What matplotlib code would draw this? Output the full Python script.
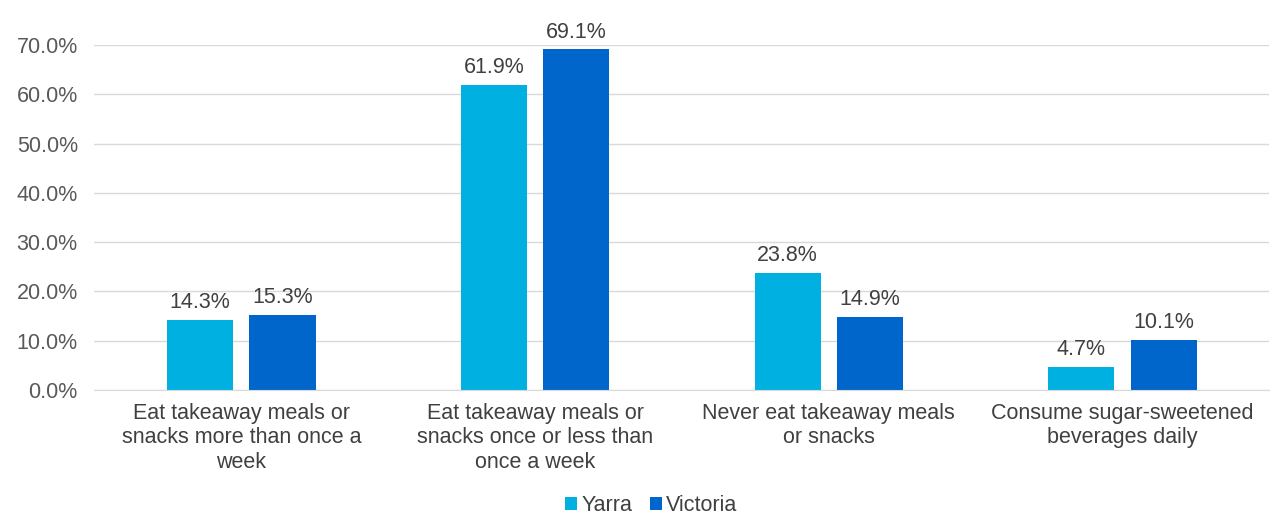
import matplotlib
matplotlib.use('Agg')
import matplotlib.pyplot as plt
import numpy as np

plt.rcParams['font.family'] = ['Liberation Sans', 'DejaVu Sans']

categories = ['Eat takeaway meals or\nsnacks more than once a\nweek',
              'Eat takeaway meals or\nsnacks once or less than\nonce a week',
              'Never eat takeaway meals\nor snacks',
              'Consume sugar-sweetened\nbeverages daily']
yarra = [14.3, 61.9, 23.8, 4.7]
victoria = [15.3, 69.1, 14.9, 10.1]

fig = plt.figure(figsize=(12.77, 5.2), dpi=100)
ax = fig.add_axes([0.074, 0.25, 0.92, 0.6635])

x = np.arange(len(categories))
w = 0.225
b1 = ax.bar(x - 0.14, yarra, w, color='#00B0E0', label='Yarra')
b2 = ax.bar(x + 0.14, victoria, w, color='#0066CC', label='Victoria')

for bars, vals in [(b1, yarra), (b2, victoria)]:
    for b, v in zip(bars, vals):
        ax.text(b.get_x() + b.get_width() / 2, v + 1.4, '%.1f%%' % v,
                ha='center', va='bottom', fontsize=15.5, color='#404040')

ax.set_ylim(0, 70)
ax.set_xlim(-0.5, 3.5)
ax.set_yticks(np.arange(0, 71, 10))
ax.set_yticklabels(['%.1f%%' % t for t in np.arange(0, 71, 10)], fontsize=15.5, color='#595959')
ax.set_xticks(x)
ax.set_xticklabels(categories, fontsize=15.5, color='#404040', linespacing=1.22)
ax.tick_params(axis='y', length=0, pad=12)
ax.tick_params(axis='x', length=0, pad=9)
ax.grid(axis='y', color='#D9D9D9', linewidth=1)
ax.set_axisbelow(True)
for s in ax.spines.values():
    s.set_visible(False)
ax.spines['bottom'].set_visible(True)
ax.spines['bottom'].set_color('#D9D9D9')

fig.legend(loc='lower center', ncol=2, frameon=False, fontsize=15.5,
           bbox_to_anchor=(0.51, -0.03), handlelength=0.55, handleheight=0.55,
           handletextpad=0.2, columnspacing=0.8, labelcolor='#404040')

fig.savefig('out.png', dpi=100)
